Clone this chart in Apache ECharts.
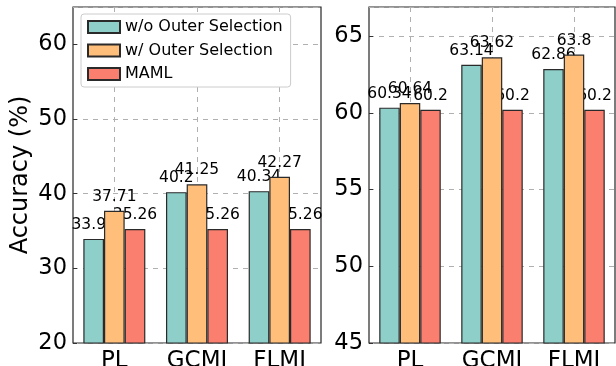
<!DOCTYPE html>
<html>
<head>
<meta charset="utf-8">
<script src="https://cdn.jsdelivr.net/npm/echarts@6/dist/echarts.min.js"></script>
<style>
html,body{margin:0;padding:0;background:#fff;}
#c{width:616px;height:366px;}
</style>
</head>
<body>
<div id="c"></div>
<script>
const categories = ['PL', 'GCMI', 'FLMI'];
const seriesNames = ['w/o Outer Selection', 'w/ Outer Selection', 'MAML'];
const leftWithout = [33.94, 40.2, 40.34];
const leftWith = [37.71, 41.25, 42.27];
const leftMaml = [35.26, 35.26, 35.26];
const rightWithout = [60.34, 63.14, 62.86];
const rightWith = [60.64, 63.62, 63.8];
const rightMaml = [60.2, 60.2, 60.2];
const leftRange = {min: 20, max: 65, interval: 10};
const rightRange = {min: 45, max: 66.9, interval: 5};
const colors = ['#8ECFC9', '#FFBE7A', '#FA7F6F'];

const font = 'DejaVu Sans';
const panels = [
  {values: [leftWithout, leftWith, leftMaml], range: leftRange, name: 'Accuracy (%)'},
  {values: [rightWithout, rightWith, rightMaml], range: rightRange, name: ''}
];
const grids = [
  {left: 73, top: 7, width: 248, height: 336},
  {left: 369, top: 7, width: 246, height: 336}
];

const xAxes = [], yAxes = [], series = [];
panels.forEach((p, gi) => {
  xAxes.push({
    type: 'category', gridIndex: gi, data: categories, boundaryGap: true,
    axisLine: {show: false}, axisTick: {show: false},
    axisLabel: {fontSize: 23, color: '#000', fontFamily: font, margin: 7},
    splitLine: {show: true, alignWithLabel: true, lineStyle: {color: '#b0b0b0', type: [5, 5], width: 1}}
  });
  xAxes.push({type: 'category', gridIndex: gi, data: categories, boundaryGap: true, show: false});
  yAxes.push({
    type: 'value', gridIndex: gi, min: p.range.min, max: p.range.max, interval: p.range.interval,
    name: p.name, nameLocation: 'middle', nameGap: 40,
    nameTextStyle: {fontSize: 24, color: '#000', fontFamily: font},
    axisLine: {show: false},
    axisTick: {show: true, inside: true, length: 4, lineStyle: {color: '#333'}},
    axisLabel: {fontSize: 22.5, color: '#000', fontFamily: font, margin: 6, showMaxLabel: false},
    splitLine: {show: true, lineStyle: {color: '#b0b0b0', type: [5, 5], width: 1}}
  });
});

// real bars
panels.forEach((p, gi) => {
  p.values.forEach((vals, si) => {
    series.push({
      type: 'bar', name: seriesNames[si], xAxisIndex: 2 * gi, yAxisIndex: gi,
      data: vals, barWidth: '25%', barGap: '0%', z: 4,
      itemStyle: {color: colors[si], borderColor: '#2a2a2a', borderWidth: 1.2},
      label: {show: false}, emphasis: {disabled: true}
    });
  });
});
// value labels (drawn beneath the bars, as in the reference)
panels.forEach((p, gi) => {
  p.values.forEach((vals, si) => {
    series.push({
      type: 'bar', name: seriesNames[si] + ' label', xAxisIndex: 2 * gi + 1, yAxisIndex: gi,
      data: vals, barWidth: '25%', barGap: '0%', z: 1, silent: true,
      itemStyle: {color: 'rgba(0,0,0,0)'},
      label: {show: true, position: 'top', distance: 6, fontSize: 15.5, color: '#000', fontFamily: font,
        formatter: (d) => String(d.value)},
      emphasis: {disabled: true}
    });
  });
});

const chart = echarts.init(document.getElementById('c'), null, {renderer: 'canvas'});
chart.setOption({
  animation: false,
  backgroundColor: '#fff',
  grid: grids.map(g => Object.assign({show: true, borderColor: '#262626', borderWidth: 1.2, backgroundColor: 'transparent', containLabel: false, outerBoundsMode: 'none'}, g)),
  legend: {
    data: seriesNames.map(n => ({name: n, icon: 'rect'})), orient: 'vertical', left: 81, top: 14,
    itemWidth: 32, itemHeight: 12, itemGap: 7.5, itemTextGap: 12,
    padding: [5, 8, 5, 6],
    backgroundColor: '#fff', borderColor: '#cccccc', borderWidth: 1, borderRadius: 3,
    textStyle: {fontSize: 16, color: '#000', fontFamily: font},
    selectedMode: false
  },
  xAxis: xAxes,
  yAxis: yAxes,
  series: series
});
</script>
</body>
</html>
